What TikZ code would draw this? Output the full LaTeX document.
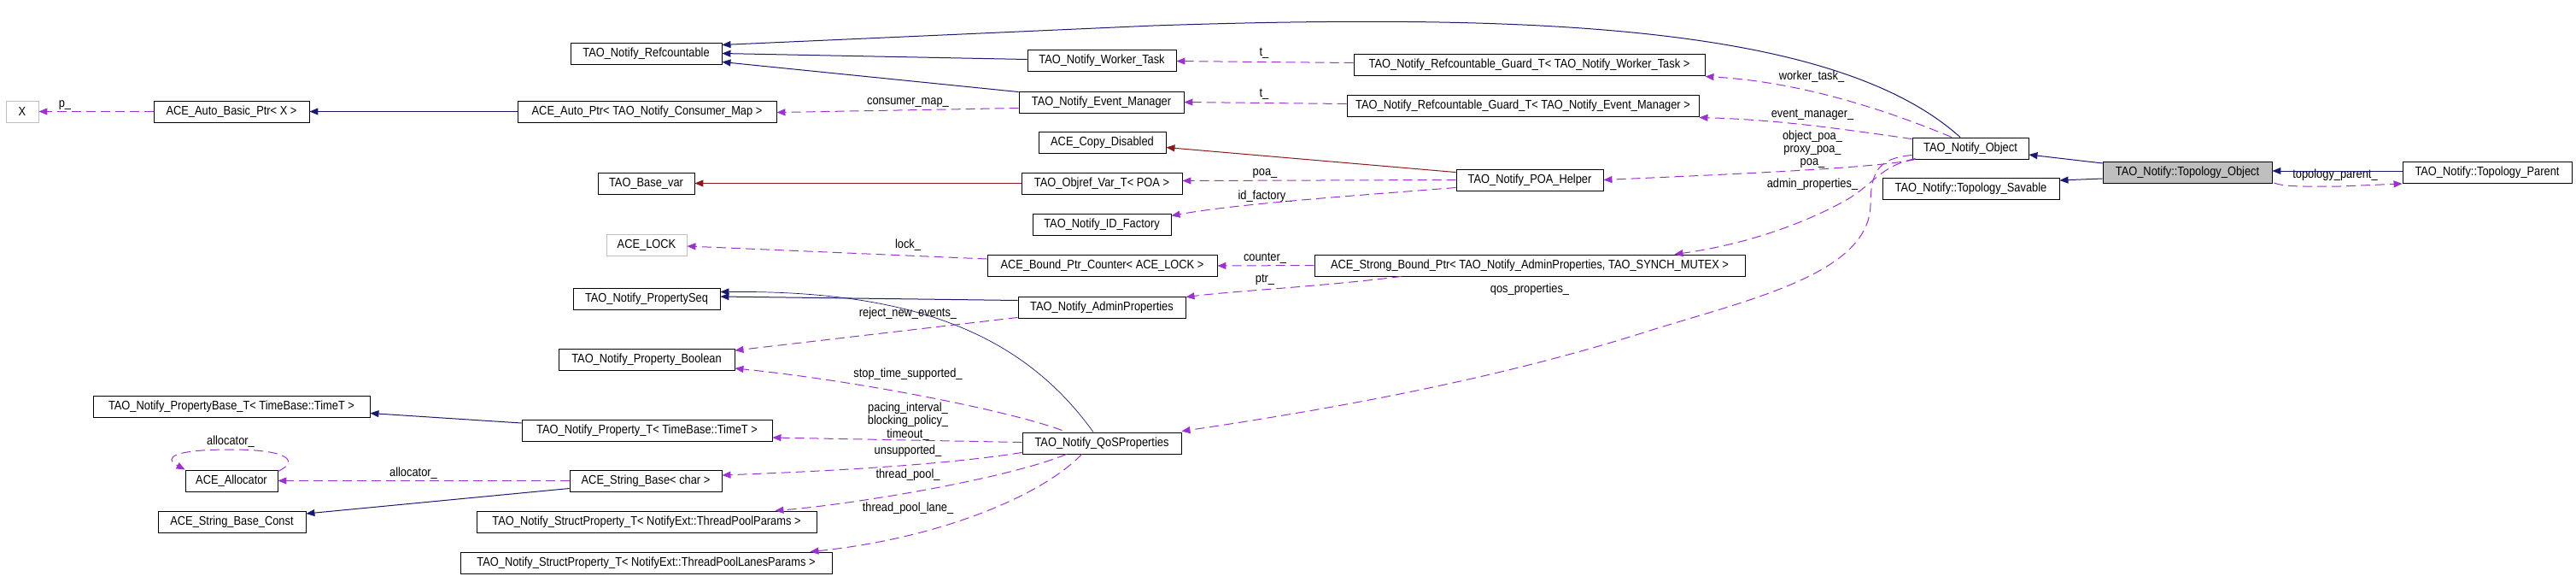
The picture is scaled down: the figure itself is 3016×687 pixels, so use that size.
\documentclass[tikz,border=0pt]{standalone}
\usepackage{fontspec}
\setmainfont{Liberation Sans}[FakeStretch=0.88]
\usetikzlibrary{arrows.meta,calc}
\definecolor{inh}{HTML}{191970}
\definecolor{priv}{HTML}{8B1A1A}
\definecolor{use}{HTML}{9A32CD}
\definecolor{grayb}{HTML}{BFBFBF}
\begin{document}
\begin{tikzpicture}[x=0.5pt,y=-0.5pt,
  box/.style={draw=black, line width=0.45pt, inner sep=0pt, minimum height=12.5pt, font=\fontsize{7.3}{7.6}\selectfont},
  gbox/.style={box, draw=grayb},
  lbl/.style={inner sep=0pt, font=\fontsize{7.3}{7.6}\selectfont, align=center},
  tip/.style={-{Triangle[length=5pt,width=4pt]}},
  pubedge/.style={tip, color=inh, line width=0.5pt},
  thinedge/.style={tip, color=inh, line width=0.35pt},
  privedge/.style={tip, color=priv, line width=0.5pt},
  useedge/.style={tip, color=use, line width=0.5pt, dash pattern=on 5.5pt off 3pt}]
\useasboundingbox (0,0) rectangle (3016,687);

% ---- nodes
\node[gbox, minimum width=19pt] (X) at (26,130.5) {X};
\node[box, minimum width=91pt] (autobasic) at (271,130.5) {ACE\_Auto\_Basic\_Ptr< X >};
\node[box, minimum width=88.5pt] (refc) at (756.5,62.5) {TAO\_Notify\_Refcountable};
\node[box, minimum width=151.5pt] (autoptr) at (757.5,130.5) {ACE\_Auto\_Ptr< TAO\_Notify\_Consumer\_Map >};
\node[box, minimum width=87pt] (worker) at (1290,70.5) {TAO\_Notify\_Worker\_Task};
\node[box, minimum width=96.5pt] (evmgr) at (1289.5,119.5) {TAO\_Notify\_Event\_Manager};
\node[box, minimum width=74.5pt] (copy) at (1290.5,166.5) {ACE\_Copy\_Disabled};
\node[box, minimum width=56.5pt] (basevar) at (756.5,214.5) {TAO\_Base\_var};
\node[box, minimum width=94pt] (objref) at (1290,214.5) {TAO\_Objref\_Var\_T< POA >};
\node[box, minimum width=81pt] (idf) at (1290,262.5) {TAO\_Notify\_ID\_Factory};
\node[box, minimum width=86pt] (poa) at (1791,210.5) {TAO\_Notify\_POA\_Helper};
\node[box, minimum width=205.5pt] (gw) at (1790.5,75.5) {TAO\_Notify\_Refcountable\_Guard\_T< TAO\_Notify\_Worker\_Task >};
\node[box, minimum width=206pt] (ge) at (1783,123.5) {TAO\_Notify\_Refcountable\_Guard\_T< TAO\_Notify\_Event\_Manager >};
\node[gbox, minimum width=47pt] (lock) at (757,286.5) {ACE\_LOCK};
\node[box, minimum width=134.5pt] (bpc) at (1290.5,311) {ACE\_Bound\_Ptr\_Counter< ACE\_LOCK >};
\node[box, minimum width=252pt] (sbp) at (1791,310.5) {ACE\_Strong\_Bound\_Ptr< TAO\_Notify\_AdminProperties, TAO\_SYNCH\_MUTEX >};
\node[box, minimum width=86pt] (propseq) at (757,349.5) {TAO\_Notify\_PropertySeq};
\node[box, minimum width=98pt] (admin) at (1290,359.5) {TAO\_Notify\_AdminProperties};
\node[box, minimum width=103pt] (pbool) at (757,421) {TAO\_Notify\_Property\_Boolean};
\node[box, minimum width=162pt] (pbase) at (271,475.5) {TAO\_Notify\_PropertyBase\_T< TimeBase::TimeT >};
\node[box, minimum width=146.5pt] (propT) at (757.5,504) {TAO\_Notify\_Property\_T< TimeBase::TimeT >};
\node[box, minimum width=93pt] (qos) at (1290,518.5) {TAO\_Notify\_QoSProperties};
\node[box, minimum width=54pt] (alloc) at (271,562.5) {ACE\_Allocator};
\node[box, minimum width=89pt] (sbchar) at (756,562.5) {ACE\_String\_Base< char >};
\node[box, minimum width=86.5pt] (sbconst) at (271.5,610.5) {ACE\_String\_Base\_Const};
\node[box, minimum width=199pt] (tpp) at (757,610.5) {TAO\_Notify\_StructProperty\_T< NotifyExt::ThreadPoolParams >};
\node[box, minimum width=217.5pt] (lanes) at (756.5,658.5) {TAO\_Notify\_StructProperty\_T< NotifyExt::ThreadPoolLanesParams >};
\node[box, minimum width=68pt] (nobj) at (2307,173.5) {TAO\_Notify\_Object};
\node[box, minimum width=103.5pt] (tsav) at (2307.5,221) {TAO\_Notify::Topology\_Savable};
\node[box, minimum width=99pt, fill=grayb] (tobj) at (2561,202) {TAO\_Notify::Topology\_Object};
\node[box, minimum width=99pt] (tparent) at (2912,202) {TAO\_Notify::Topology\_Parent};

% ---- labels
\node[lbl] (l1) at (76,123) {p\_};
\node[lbl] (l2) at (1063,120) {consumer\_map\_};
\node[lbl] (l3) at (1480,62) {t\_};
\node[lbl] (l4) at (1480,110) {t\_};
\node[lbl] (l5) at (2121,90) {worker\_task\_};
\node[lbl] (l6) at (2122,134) {event\_manager\_};
\node[lbl] (l7) at (2122,175) {object\_poa\_\\proxy\_poa\_\\poa\_};
\node[lbl] (l8) at (2122,216) {admin\_properties\_};
\node[lbl] (l9) at (1481,203) {poa\_};
\node[lbl] (l10) at (1481,230) {id\_factory\_};
\node[lbl] (l11) at (1063,287) {lock\_};
\node[lbl] (l12) at (1481,302) {counter\_};
\node[lbl] (l13) at (1481,327) {ptr\_};
\node[lbl] (l14) at (1791,339) {qos\_properties\_};
\node[lbl] (l15) at (1063,367) {reject\_new\_events\_};
\node[lbl] (l16) at (1063,438) {stop\_time\_supported\_};
\node[lbl] (l17) at (1063,493) {pacing\_interval\_\\blocking\_policy\_\\timeout\_};
\node[lbl] (l18) at (1063,528) {unsupported\_};
\node[lbl] (l19) at (1063,556) {thread\_pool\_};
\node[lbl] (l20) at (1063,595) {thread\_pool\_lane\_};
\node[lbl] (l21) at (270,517) {allocator\_};
\node[lbl] (l22) at (484,554) {allocator\_};
\node[lbl] (l23) at (2734,205) {topology\_parent\_};

% ---- connectors
\draw[useedge] (autobasic.west) -- (X.east);
\draw[pubedge] (autoptr.west) -- (autobasic.east);
\draw[useedge] ($(evmgr.west)+(0,7)$) -- ($(autoptr.east)+(0,1)$);
\draw[pubedge] ($(worker.west)+(0,-1)$) -- (refc.east);
\draw[pubedge] ($(evmgr.north west)+(0,1)$) -- ($(refc.east)+(0,10)$);
\draw[pubedge] ($(nobj.north)+(-12,0)$) .. controls (2150,30) and (1800,15) .. (1350,30) -- ($(refc.east)+(0,-10)$);
\draw[useedge] ($(gw.west)+(0,-2)$) -- ($(worker.east)+(0,1)$);
\draw[useedge] ($(ge.west)+(0,-2)$) -- (evmgr.east);
\draw[useedge] ($(nobj.north)+(-22,0)$) .. controls (2200,125) and (2100,95) .. ($(gw.east)+(0,14)$);
\draw[useedge] ($(nobj.north west)+(0,2)$) .. controls (2150,150) and (2080,140) .. ($(ge.east)+(0,14)$);
\draw[useedge] ($(nobj.south west)+(4,0)$) .. controls (2200,197) and (2000,205) .. (poa.east);
\draw[privedge] ($(poa.north west)+(0,4)$) -- ($(copy.east)+(0,6)$);
\draw[useedge] (poa.west) -- ($(objref.east)+(0,-3)$);
\draw[useedge] ($(poa.west)+(0,9)$) .. controls (1600,228) and (1450,238) .. ($(idf.east)+(0,-10)$);
\draw[privedge] (objref.west) -- (basevar.east);
\draw[useedge] ($(nobj.south west)+(4,-1)$) .. controls (2200,195) and (2195,215) .. (2160,235) .. controls (2100,268) and (2030,288) .. ($(sbp.north east)+(-83,0)$);
\draw[useedge] ($(nobj.west)+(0,8)$) .. controls (2200,185) and (2190,200) .. (2190,240) .. controls (2188,320) and (2050,350) .. (1931,387) .. controls (1750,445) and (1550,480) .. ($(qos.north east)+(0,-1)$);
\draw[useedge] (sbp.west) -- (bpc.east);
\draw[useedge] ($(sbp.south west)+(102,0)$) .. controls (1550,335) and (1450,340) .. ($(admin.east)+(0,-12)$);
\draw[useedge] ($(bpc.west)+(0,-8)$) -- ($(lock.east)+(0,1.5)$);
\draw[pubedge] ($(admin.west)+(0,-8)$) -- ($(propseq.east)+(0,-2.5)$);
\draw[thinedge] ($(qos.north)+(-10,0)$) .. controls (1190,380) and (1050,340) .. ($(propseq.east)+(0,-8)$);
\draw[useedge] ($(admin.south west)+(0,-1)$) -- ($(pbool.north east)+(0,2)$);
\draw[useedge] ($(qos.north west)+(47,-2)$) .. controls (1180,480) and (1000,445) .. ($(pbool.east)+(0,10)$);
\draw[useedge] ($(qos.west)+(0,-1)$) -- ($(propT.east)+(0,8)$);
\draw[pubedge] ($(propT.west)+(0,-9)$) -- ($(pbase.east)+(0,8)$);
\draw[useedge] ($(qos.south west)+(0,-2)$) .. controls (1100,545) and (950,552) .. ($(sbchar.east)+(0,-6.5)$);
\draw[useedge] (sbchar.west) -- (alloc.east);
\draw[useedge] ($(alloc.north east)+(0,2)$) .. controls (350,540) and (340,526) .. (270,526) .. controls (205,526) and (190,535) .. (alloc.north west);
\draw[pubedge] ($(sbchar.west)+(0,9)$) -- ($(sbconst.east)+(0,-9.5)$);
\draw[useedge] ($(qos.south west)+(52,0)$) .. controls (1180,560) and (1000,590) .. ($(tpp.north east)+(-49,0)$);
\draw[useedge] ($(qos.south west)+(70,0)$) .. controls (1220,580) and (1100,630) .. ($(lanes.north east)+(-26,0)$);
\draw[pubedge] ($(tobj.west)+(0,-11)$) -- ($(nobj.east)+(0,7.5)$);
\draw[pubedge] ($(tobj.west)+(0,7)$) -- ($(tsav.east)+(0,-10)$);
\draw[pubedge] ($(tparent.west)+(0,-2)$) -- ($(tobj.east)+(0,-2)$);
\draw[useedge] ($(tobj.south east)+(2,-1)$) .. controls (2675,219) and (2700,218) .. (2740,218) -- (tparent.south west);
\end{tikzpicture}
\end{document}
